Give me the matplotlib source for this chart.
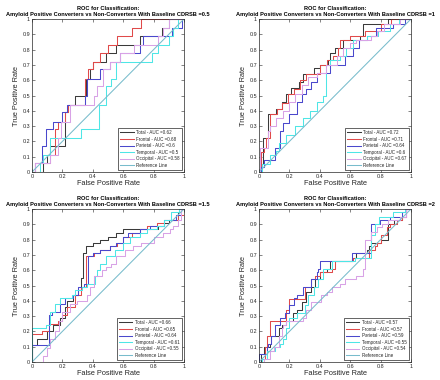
import matplotlib
matplotlib.use("Agg")
import matplotlib.pyplot as plt

# ---------------- data ----------------
cdrsb_levels = ["0.5", "1", "1.5", "2"]
region_names = ["Total", "Frontal", "Parietal", "Temporal", "Occipital"]
auc_labels = [
    ["0.62", "0.68", "0.6", "0.5", "0.58"],
    ["0.72", "0.71", "0.64", "0.6", "0.67"],
    ["0.66", "0.65", "0.64", "0.61", "0.55"],
    ["0.57", "0.57", "0.59", "0.55", "0.54"],
]

# Panel 1 (CDRSB = 0.5)
p1_total_fpr = [0, 0.07, 0.10, 0.12, 0.22, 0.24, 0.28, 0.355, 0.38, 0.40, 0.49, 0.55, 0.71, 0.855, 0.90, 1]
p1_total_tpr = [0, 0.06, 0.11, 0.17, 0.39, 0.44, 0.50, 0.61, 0.67, 0.72, 0.78, 0.83, 0.89, 0.94, 1.0, 1]
p1_front_fpr = [0, 0.02, 0.12, 0.15, 0.17, 0.22, 0.24, 0.35, 0.37, 0.40, 0.45, 0.50, 0.56, 0.66, 0.72, 1]
p1_front_tpr = [0, 0.06, 0.11, 0.28, 0.33, 0.39, 0.44, 0.61, 0.67, 0.72, 0.78, 0.83, 0.89, 0.94, 1.0, 1]
p1_par_fpr = [0, 0.02, 0.065, 0.09, 0.14, 0.20, 0.23, 0.35, 0.365, 0.45, 0.51, 0.58, 0.71, 0.73, 0.92, 0.99, 1]
p1_par_tpr = [0, 0.06, 0.17, 0.28, 0.33, 0.39, 0.44, 0.50, 0.61, 0.67, 0.72, 0.78, 0.83, 0.89, 0.94, 1.0, 1]
p1_temp_fpr = [0, 0.05, 0.07, 0.12, 0.32, 0.44, 0.49, 0.52, 0.55, 0.79, 0.83, 0.90, 0.93, 0.96, 1]
p1_temp_tpr = [0, 0.06, 0.11, 0.22, 0.28, 0.44, 0.56, 0.61, 0.72, 0.78, 0.83, 0.89, 0.94, 1.0, 1]
p1_occ_fpr = [0, 0.02, 0.12, 0.17, 0.19, 0.25, 0.41, 0.43, 0.47, 0.51, 0.58, 0.67, 0.83, 0.86, 0.90, 1]
p1_occ_tpr = [0, 0.06, 0.11, 0.22, 0.33, 0.44, 0.50, 0.56, 0.67, 0.72, 0.78, 0.83, 0.89, 0.94, 1.0, 1]

# Panel 2 (CDRSB = 1)
p2_total_fpr = [0, 0.01, 0.025, 0.06, 0.115, 0.15, 0.18, 0.21, 0.26, 0.29, 0.36, 0.40, 0.455, 0.47, 0.50, 0.555, 0.665, 0.685, 0.85, 1]
p2_total_tpr = [0, 0.05, 0.22, 0.38, 0.41, 0.46, 0.51, 0.55, 0.59, 0.64, 0.68, 0.70, 0.73, 0.78, 0.81, 0.86, 0.89, 0.97, 1.0, 1]
p2_front_fpr = [0, 0.013, 0.03, 0.045, 0.075, 0.12, 0.15, 0.19, 0.23, 0.27, 0.31, 0.40, 0.45, 0.49, 0.52, 0.535, 0.60, 0.70, 0.80, 0.87, 1]
p2_front_tpr = [0, 0.13, 0.16, 0.22, 0.38, 0.41, 0.45, 0.51, 0.54, 0.60, 0.64, 0.70, 0.73, 0.76, 0.81, 0.86, 0.89, 0.92, 0.97, 1.0, 1]
p2_par_fpr = [0, 0.01, 0.03, 0.105, 0.14, 0.16, 0.20, 0.25, 0.28, 0.31, 0.34, 0.38, 0.47, 0.565, 0.62, 0.66, 0.71, 0.77, 0.88, 0.96, 1]
p2_par_tpr = [0, 0.03, 0.08, 0.16, 0.27, 0.32, 0.38, 0.46, 0.51, 0.54, 0.59, 0.65, 0.70, 0.76, 0.81, 0.86, 0.89, 0.94, 0.97, 1.0, 1]
p2_temp_fpr = [0, 0.02, 0.07, 0.11, 0.13, 0.18, 0.24, 0.29, 0.335, 0.38, 0.42, 0.44, 0.47, 0.53, 0.57, 0.62, 0.71, 0.78, 0.86, 0.92, 1]
p2_temp_tpr = [0, 0.05, 0.11, 0.14, 0.19, 0.24, 0.30, 0.35, 0.40, 0.46, 0.50, 0.70, 0.73, 0.76, 0.81, 0.86, 0.89, 0.92, 0.97, 1.0, 1]
p2_occ_fpr = [0, 0.005, 0.06, 0.07, 0.11, 0.16, 0.20, 0.24, 0.28, 0.32, 0.38, 0.44, 0.51, 0.555, 0.60, 0.64, 0.74, 0.775, 0.82, 0.93, 1]
p2_occ_tpr = [0, 0.16, 0.27, 0.30, 0.35, 0.40, 0.46, 0.51, 0.57, 0.62, 0.65, 0.70, 0.76, 0.81, 0.84, 0.86, 0.89, 0.92, 0.97, 1.0, 1]

# Panel 3 (CDRSB = 1.5)
p3_total_fpr = [0, 0, 0.03, 0.10, 0.14, 0.185, 0.22, 0.23, 0.27, 0.30, 0.32, 0.335, 0.355, 0.40, 0.45, 0.50, 0.55, 0.60, 0.83, 0.87, 0.90, 0.96, 0.98, 1]
p3_total_tpr = [0, 0.11, 0.15, 0.20, 0.24, 0.29, 0.36, 0.40, 0.44, 0.47, 0.55, 0.71, 0.76, 0.78, 0.80, 0.82, 0.84, 0.87, 0.89, 0.91, 0.93, 0.98, 1.0, 1]
p3_front_fpr = [0, 0, 0.065, 0.11, 0.17, 0.20, 0.23, 0.28, 0.32, 0.355, 0.405, 0.45, 0.51, 0.56, 0.60, 0.66, 0.71, 0.755, 0.82, 0.87, 0.96, 1]
p3_front_tpr = [0, 0.18, 0.20, 0.25, 0.27, 0.31, 0.36, 0.44, 0.49, 0.69, 0.71, 0.73, 0.76, 0.78, 0.82, 0.84, 0.87, 0.89, 0.91, 0.93, 0.96, 1]
p3_par_fpr = [0, 0, 0.11, 0.13, 0.185, 0.22, 0.27, 0.30, 0.34, 0.37, 0.40, 0.45, 0.51, 0.55, 0.60, 0.63, 0.71, 0.775, 0.87, 0.95, 0.98, 1]
p3_par_tpr = [0, 0.11, 0.31, 0.33, 0.38, 0.42, 0.44, 0.49, 0.51, 0.69, 0.71, 0.73, 0.76, 0.78, 0.82, 0.84, 0.87, 0.89, 0.93, 0.96, 1.0, 1]
p3_temp_fpr = [0, 0, 0.09, 0.12, 0.15, 0.185, 0.26, 0.28, 0.33, 0.36, 0.415, 0.43, 0.45, 0.49, 0.545, 0.60, 0.645, 0.71, 0.755, 0.82, 0.87, 0.915, 0.97, 1]
p3_temp_tpr = [0, 0.22, 0.24, 0.33, 0.38, 0.42, 0.44, 0.47, 0.49, 0.51, 0.56, 0.60, 0.64, 0.69, 0.73, 0.78, 0.82, 0.84, 0.87, 0.89, 0.93, 0.98, 1.0, 1]
p3_occ_fpr = [0, 0.075, 0.10, 0.12, 0.15, 0.175, 0.195, 0.25, 0.295, 0.36, 0.38, 0.405, 0.46, 0.49, 0.52, 0.555, 0.61, 0.665, 0.72, 0.80, 0.86, 0.905, 0.93, 0.96, 0.98, 1]
p3_occ_tpr = [0, 0.04, 0.09, 0.15, 0.20, 0.27, 0.33, 0.38, 0.40, 0.44, 0.49, 0.56, 0.60, 0.62, 0.64, 0.69, 0.73, 0.76, 0.78, 0.82, 0.84, 0.87, 0.89, 0.93, 1.0, 1]

# Panel 4 (CDRSB = 2)
p4_total_fpr = [0, 0.013, 0.03, 0.07, 0.08, 0.13, 0.15, 0.18, 0.225, 0.25, 0.28, 0.31, 0.34, 0.37, 0.40, 0.445, 0.47, 0.61, 0.64, 0.71, 0.725, 0.74, 0.80, 0.85, 0.89, 0.94, 0.97, 1]
p4_total_tpr = [0, 0.05, 0.10, 0.12, 0.17, 0.22, 0.24, 0.27, 0.32, 0.34, 0.39, 0.46, 0.49, 0.54, 0.59, 0.61, 0.66, 0.68, 0.71, 0.73, 0.76, 0.78, 0.80, 0.90, 0.93, 0.95, 1.0, 1]
p4_front_fpr = [0, 0.02, 0.04, 0.05, 0.07, 0.18, 0.20, 0.30, 0.345, 0.37, 0.40, 0.48, 0.50, 0.62, 0.725, 0.76, 0.775, 0.80, 0.84, 0.86, 0.905, 0.94, 0.97, 1]
p4_front_tpr = [0, 0.02, 0.10, 0.17, 0.27, 0.34, 0.41, 0.49, 0.54, 0.56, 0.59, 0.61, 0.66, 0.68, 0.73, 0.76, 0.78, 0.83, 0.88, 0.90, 0.93, 0.95, 1.0, 1]
p4_par_fpr = [0, 0, 0.05, 0.06, 0.08, 0.105, 0.14, 0.17, 0.20, 0.23, 0.25, 0.29, 0.345, 0.38, 0.39, 0.40, 0.61, 0.735, 0.795, 0.86, 0.94, 0.97, 1]
p4_par_tpr = [0, 0.05, 0.10, 0.12, 0.17, 0.24, 0.29, 0.32, 0.37, 0.42, 0.44, 0.49, 0.54, 0.59, 0.61, 0.66, 0.71, 0.90, 0.93, 0.95, 0.98, 1.0, 1]
p4_temp_fpr = [0, 0.02, 0.05, 0.105, 0.14, 0.16, 0.18, 0.20, 0.25, 0.30, 0.325, 0.36, 0.39, 0.42, 0.48, 0.63, 0.74, 0.76, 0.79, 0.88, 0.96, 1]
p4_temp_tpr = [0, 0.02, 0.07, 0.10, 0.12, 0.15, 0.22, 0.29, 0.32, 0.37, 0.44, 0.49, 0.54, 0.61, 0.66, 0.68, 0.83, 0.90, 0.95, 0.98, 1.0, 1]
p4_occ_fpr = [0, 0.035, 0.07, 0.10, 0.13, 0.15, 0.16, 0.18, 0.29, 0.31, 0.345, 0.41, 0.445, 0.48, 0.53, 0.565, 0.64, 0.685, 0.70, 0.74, 0.775, 0.81, 0.85, 0.93, 0.97, 1]
p4_occ_tpr = [0, 0.02, 0.07, 0.10, 0.17, 0.22, 0.24, 0.27, 0.29, 0.34, 0.39, 0.44, 0.46, 0.49, 0.51, 0.54, 0.56, 0.61, 0.80, 0.85, 0.88, 0.90, 0.93, 0.95, 1.0, 1]

panels = [
    [(p1_total_fpr, p1_total_tpr), (p1_front_fpr, p1_front_tpr), (p1_par_fpr, p1_par_tpr),
     (p1_temp_fpr, p1_temp_tpr), (p1_occ_fpr, p1_occ_tpr)],
    [(p2_total_fpr, p2_total_tpr), (p2_front_fpr, p2_front_tpr), (p2_par_fpr, p2_par_tpr),
     (p2_temp_fpr, p2_temp_tpr), (p2_occ_fpr, p2_occ_tpr)],
    [(p3_total_fpr, p3_total_tpr), (p3_front_fpr, p3_front_tpr), (p3_par_fpr, p3_par_tpr),
     (p3_temp_fpr, p3_temp_tpr), (p3_occ_fpr, p3_occ_tpr)],
    [(p4_total_fpr, p4_total_tpr), (p4_front_fpr, p4_front_tpr), (p4_par_fpr, p4_par_tpr),
     (p4_temp_fpr, p4_temp_tpr), (p4_occ_fpr, p4_occ_tpr)],
]

x_ticks = [0, 0.2, 0.4, 0.6, 0.8, 1]
x_tick_labels = ["0", "0.2", "0.4", "0.6", "0.8", "1"]
y_ticks = [0, 0.1, 0.2, 0.3, 0.4, 0.5, 0.6, 0.7, 0.8, 0.9, 1]
y_tick_labels = ["0", "0.1", "0.2", "0.3", "0.4", "0.5", "0.6", "0.7", "0.8", "0.9", "1"]

# ---------------- style ----------------
colors = ["#3a3a3a", "#e04a4a", "#4a48cc", "#4ee6e6", "#d8a2e6"]
ref_color = "#78bccc"
plt.rcParams['font.family'] = ['Liberation Sans', 'DejaVu Sans']

W, H = 440, 380
fig = plt.figure(figsize=(W / 100, H / 100), dpi=100)

# axes boxes in pixels: (left, top, right, bottom)
boxes = [(32, 19, 184, 172), (259, 19, 411, 172), (32, 209, 184, 362), (259, 209, 411, 362)]
axis_col = "#262626"

for k, (l, t, r, b) in enumerate(boxes):
    ax = fig.add_axes([l / W, 1 - b / H, (r - l) / W, (b - t) / H])
    for j, (fx, ty) in enumerate(panels[k]):
        ax.plot(fx, ty, drawstyle="steps-post", color=colors[j], lw=0.75,
                label=f"{region_names[j]} - AUC ={auc_labels[k][j]}")
    ax.plot([0, 1], [0, 1], color=ref_color, lw=0.75, label="Reference Line")
    ax.set_xlim(0, 1)
    ax.set_ylim(0, 1)
    ax.set_xticks(x_ticks)
    ax.set_xticklabels(x_tick_labels)
    ax.set_yticks(y_ticks)
    ax.set_yticklabels(y_tick_labels)
    ax.tick_params(direction="in", length=2, width=0.4, labelsize=3.9, colors=axis_col,
                   top=True, right=True, pad=1.5)
    for s in ax.spines.values():
        s.set_linewidth(0.5)
        s.set_color(axis_col)
    ax.set_xlabel("False Positive Rate", fontsize=5.3, color=axis_col, labelpad=1)
    ax.set_ylabel("True Positive Rate", fontsize=5.3, color=axis_col, labelpad=1.5)
    ax.set_title("ROC for Classification:\nAmyloid Positive Converters vs Non-Converters With Baseline CDRSB ="
                 + cdrsb_levels[k], fontsize=4.05, fontweight="bold", pad=2.5, linespacing=1.2)
    leg = ax.legend(loc="lower right", fontsize=3.25, frameon=True, fancybox=False,
                    framealpha=1, edgecolor=axis_col, handlelength=3.0, handletextpad=0.6,
                    labelspacing=0.35, borderpad=0.4, borderaxespad=0.5)
    leg.get_frame().set_linewidth(0.5)
    for txt in leg.get_texts():
        txt.set_color(axis_col)

fig.savefig("out.png", dpi=100)
